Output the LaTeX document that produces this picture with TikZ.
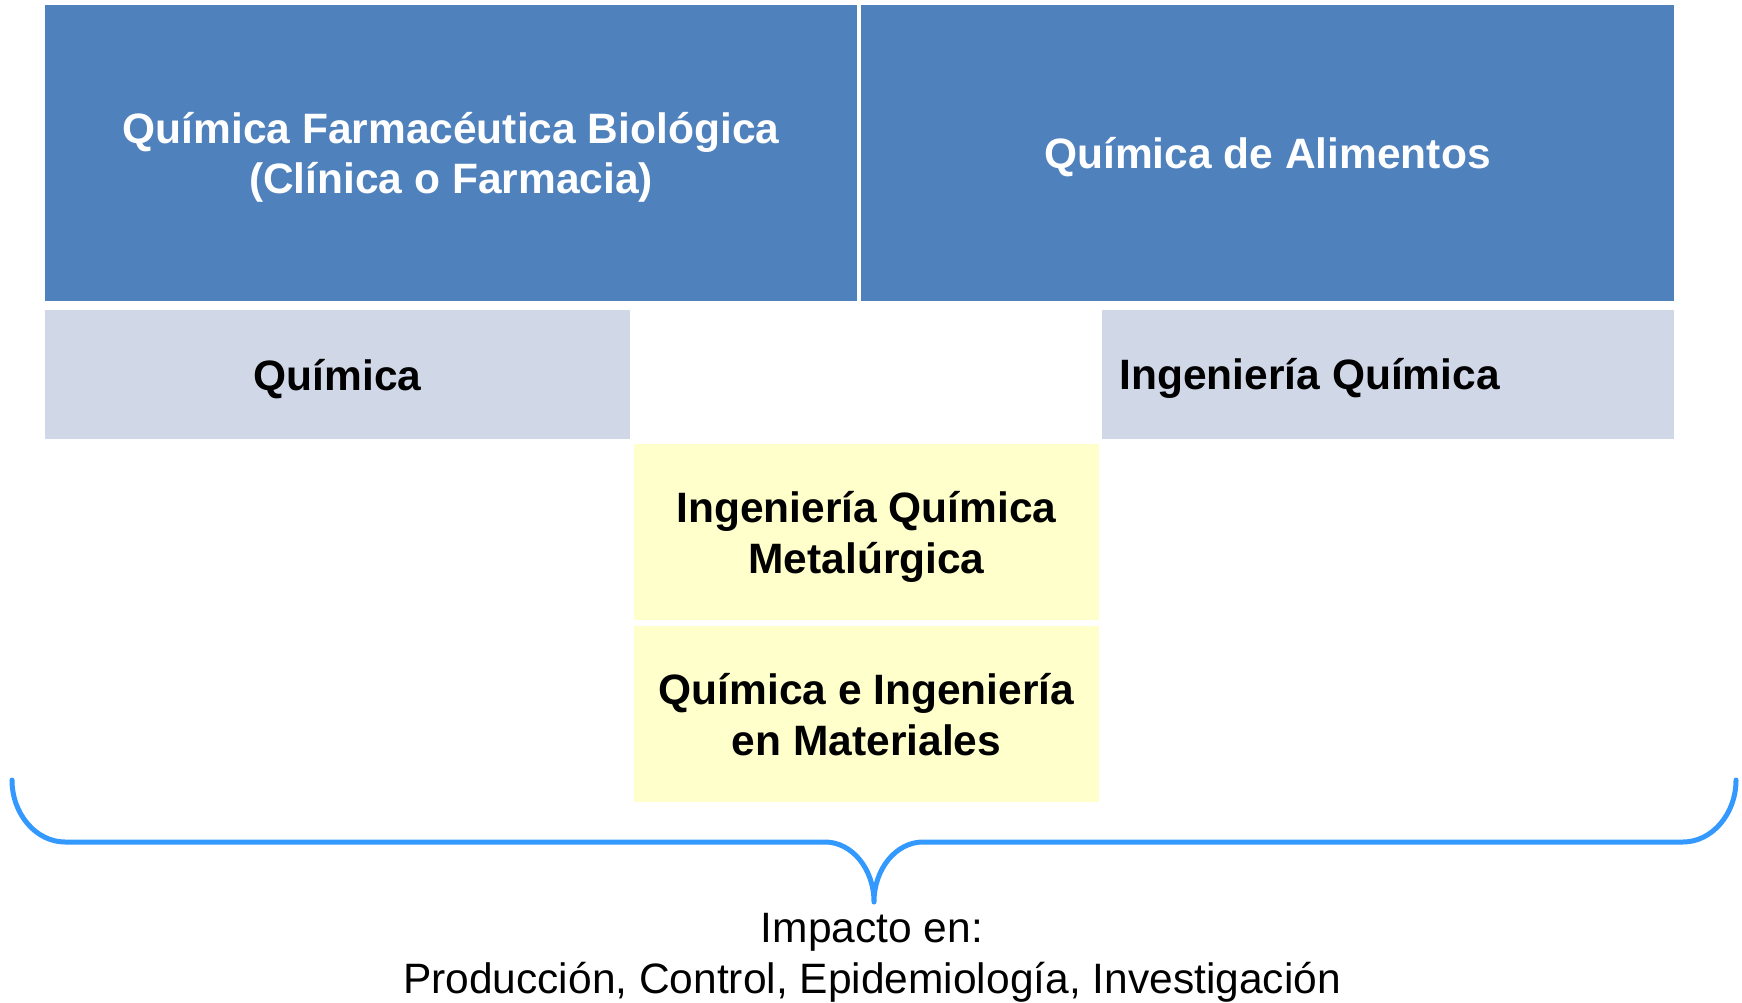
\documentclass[tikz,border=0pt]{standalone}
\usepackage{fontspec}
\setmainfont{Liberation Sans}
\definecolor{bluefill}{HTML}{4F81BD}
\definecolor{greyfill}{HTML}{D0D8E8}
\definecolor{yellowfill}{HTML}{FFFFCC}
\definecolor{bracecol}{HTML}{3399FF}
\newcommand\lstr{\rule[-9pt]{0pt}{49pt}}
\begin{document}
\begin{tikzpicture}[x=1pt,y=-1pt,
  box/.style={rectangle, draw=white, line width=1.5pt, inner sep=0pt},
  bluebox/.style={box, fill=bluefill},
  greybox/.style={box, fill=greyfill},
  yellowbox/.style={box, fill=yellowfill},
  label/.style={inner sep=0pt, align=center,
    font=\fontsize{42.5}{51}\selectfont\bfseries},
  bracestyle/.style={draw=bracecol, line width=5pt, line cap=round, line join=round}
]
\path[use as bounding box] (0,0) rectangle (1742,1003);

\node[bluebox, minimum width=814pt, minimum height=298pt] (qfb) at (451,153) {};
\node[bluebox, minimum width=815pt, minimum height=298pt] (qa) at (1267.5,153) {};
\node[greybox, minimum width=587pt, minimum height=131pt] (q) at (337.5,374.5) {};
\node[greybox, minimum width=574pt, minimum height=131pt] (iq) at (1388,374.5) {};
\node[yellowbox, minimum width=467pt, minimum height=178pt] (iqm) at (866.5,532) {};
\node[yellowbox, minimum width=467pt, minimum height=178pt] (qim) at (866.5,714) {};

\node[label, text=white] (qfbt) at (qfb.center)
  {\lstr Química Farmacéutica Biológica\\\lstr(Clínica o Farmacia)};
\node[label, text=white] (qat) at (qa.center) {\lstr Química de Alimentos};
\node[label] (qt) at (q.center) {\lstr Química};
\node[label, anchor=west] (iqt) at ([xshift=19pt]iq.west) {\lstr Ingeniería Química};
\node[label] (iqmt) at (iqm.center) {\lstr Ingeniería Química\\\lstr Metalúrgica};
\node[label] (qimt) at (qim.center) {\lstr Química e Ingeniería\\\lstr en Materiales};

\draw[bracestyle] (12,780) .. controls (12,814) and (36,842) .. (65,842)
  -- (825,842) .. controls (852,842) and (874,869) .. (874,902)
  .. controls (874,869) and (896,842) .. (923,842)
  -- (1683,842) .. controls (1712,842) and (1736,814) .. (1736,780);

\node[align=center, inner sep=0pt, font=\fontsize{42.5}{51}\selectfont] (impact) at (872,952.5)
  {\lstr Impacto en:\\\lstr Producción, Control, Epidemiología, Investigación};
\end{tikzpicture}
\end{document}
